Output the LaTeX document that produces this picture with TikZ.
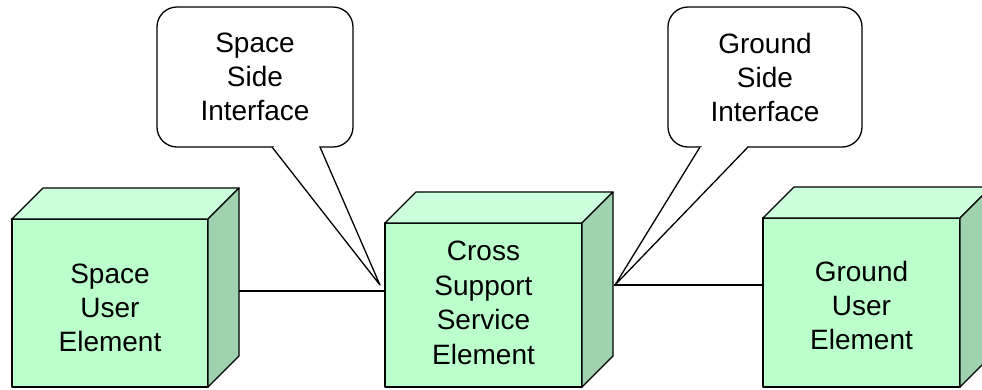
\documentclass[tikz,border=0pt]{standalone}
\usepackage{fontspec}
\setmainfont{Liberation Sans}
\definecolor{frontc}{RGB}{187,255,204}
\definecolor{topc}{RGB}{204,255,221}
\definecolor{sidec}{RGB}{160,210,176}
\begin{document}
\begin{tikzpicture}[x=1pt,y=-1pt, line width=1.3pt, line join=round,
  txt/.style={font=\fontsize{28}{34}\selectfont, align=center},
  front/.style={draw, fill=frontc, inner sep=0pt, outer sep=0pt, anchor=north west},
  topface/.style={draw, fill=topc},
  sideface/.style={draw, fill=sidec},
  callout/.style={draw, fill=white, rounded corners=20pt, inner sep=0pt, outer sep=0pt, anchor=north west, txt}]
\useasboundingbox (0,0) rectangle (982,389);
\clip (0,0) rectangle (982,389);

% Space User Element
\node[front, minimum width=196pt, minimum height=168pt] (su) at (12,219) {};
\draw[topface] (su.north west) -- ++(31,-31) -- ++(196,0) -- (su.north east) -- cycle;
\draw[sideface] (su.north east) -- ++(31,-31) -- ++(0,168) -- (su.south east) -- cycle;
\node[txt] (suT) at ([yshift=-5pt]su.center) {Space\\User\\Element};

% Cross Support Service Element
\node[front, minimum width=197pt, minimum height=164pt] (cs) at (385,223) {};
\draw[topface] (cs.north west) -- ++(31,-31) -- ++(197,0) -- (cs.north east) -- cycle;
\draw[sideface] (cs.north east) -- ++(31,-31) -- ++(0,164) -- (cs.south east) -- cycle;
\node[txt, font=\fontsize{28}{34.7}\selectfont] (csT) at ([yshift=2pt]cs.center) {Cross\\Support\\Service\\Element};

% Ground User Element
\node[front, minimum width=197pt, minimum height=169pt] (gu) at (763,218) {};
\draw[topface] (gu.north west) -- ++(31,-31) -- ++(197,0) -- (gu.north east) -- cycle;
\draw[sideface] (gu.north east) -- ++(31,-31) -- ++(0,169) -- (gu.south east) -- cycle;
\node[txt] (guT) at ([yshift=-3pt]gu.center) {Ground\\User\\Element};

% connectors
\coordinate (suR) at (239,291);
\coordinate (csR) at (614,285);
\draw (suR) -- (suR -| cs.west);
\draw (csR) -- (csR -| gu.west);

% Space Side Interface callout
\node[callout, minimum width=196pt, minimum height=140pt] (ssi) at (157,7) {Space\\Side\\Interface};
\coordinate (ssiTip) at (380,285);
\fill[white] (272,147) -- (ssiTip) -- (320,147) -- cycle;
\fill[white] (274,144.5) rectangle (318.5,149.5);
\draw (272,147) -- (ssiTip) -- (320,147);

% Ground Side Interface callout
\node[callout, minimum width=194pt, minimum height=140pt] (gsi) at (668,7) {Ground\\Side\\Interface};
\coordinate (gsiTip) at (615,285);
\fill[white] (700,147) -- (gsiTip) -- (748,147) -- cycle;
\fill[white] (701.5,144.5) rectangle (746.5,149.5);
\draw (700,147) -- (gsiTip) -- (748,147);
\end{tikzpicture}
\end{document}
